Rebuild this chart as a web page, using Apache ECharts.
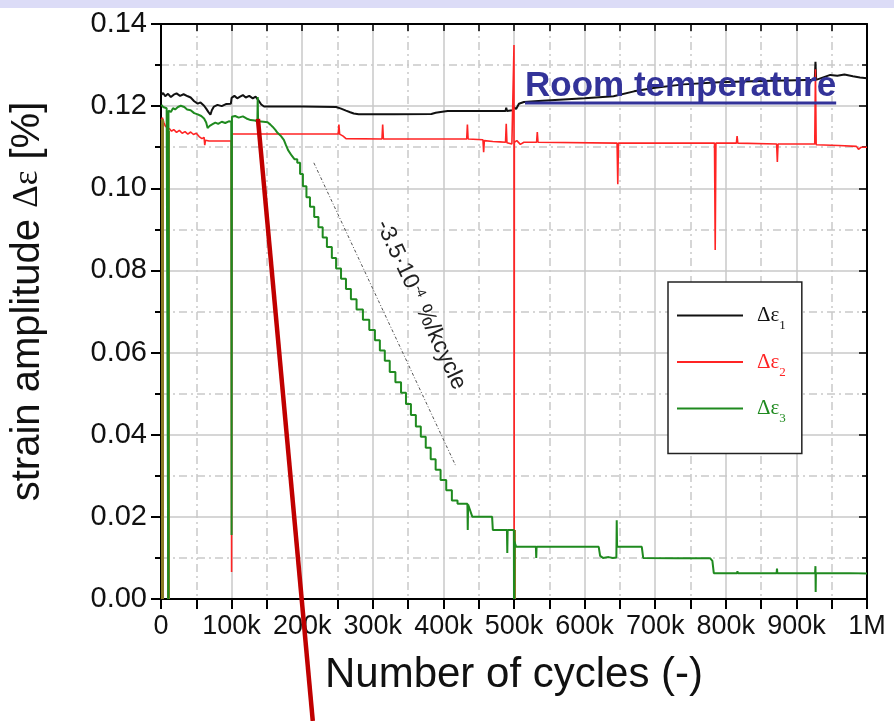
<!DOCTYPE html>
<html>
<head>
<meta charset="utf-8">
<script src="https://cdn.jsdelivr.net/npm/echarts@6/dist/echarts.min.js"></script>
<style>
  html, body { margin: 0; padding: 0; background: #fff; }
  #chart { width: 894px; height: 721px; }
</style>
</head>
<body>
<div id="chart"></div>
<script>
// x values are in thousands of cycles, y values are strain amplitude in %
const xTickLabels = ['0', '100k', '200k', '300k', '400k', '500k', '600k', '700k', '800k', '900k', '1M'];
const seriesNames = ['Δε1', 'Δε2', 'Δε3'];

const eps1 = [[0,0.1227],[3,0.1232],[6,0.1224],[10,0.1230],[14,0.1222],[18,0.1228],[22,0.1231],[27,0.1225],[32,0.1229],[38,0.1224],[42,0.1221],[47,0.1212],[52,0.1206],[56,0.1209],[61,0.1201],[64,0.1194],[67,0.1186],[70,0.1179],[72,0.1190],[75,0.1199],[80,0.1203],[86,0.1200],[92,0.1205],[99,0.1206],[100,0.1220],[104,0.1225],[108,0.1219],[112,0.1223],[116,0.1227],[120,0.1221],[125,0.1225],[130,0.1219],[134,0.1223],[138,0.1214],[142,0.1204],[146,0.1199],[200,0.1199],[248,0.1198],[255,0.1194],[262,0.1189],[268,0.1185],[273,0.1182],[280,0.1180],[330,0.1180],[383,0.1181],[389,0.1184],[396,0.1186],[406,0.1188],[488,0.1188],[489,0.1196],[490,0.1188],[498,0.1190],[500,0.1197],[503,0.1193],[507,0.1206],[514,0.1210],[540,0.1213],[570,0.1216],[600,0.1219],[641,0.1224],[670,0.1236],[700,0.1245],[740,0.1253],[790,0.1258],[850,0.1261],[900,0.1263],[926,0.1264],[927,0.1308],[928,0.1264],[938,0.1270],[948,0.1276],[958,0.1274],[968,0.1277],[980,0.1273],[990,0.1270],[1000,0.1268]];

const eps2 = [[0.5,0.1166],[2,0.1172],[4,0.1160],[6,0.1152],[9,0.1147],[12,0.1145],[15,0.1139],[18,0.1143],[22,0.1136],[26,0.1141],[30,0.1134],[34,0.1138],[38,0.1132],[42,0.1137],[46,0.1131],[50,0.1134],[54,0.1126],[58,0.1121],[61,0.1124],[62,0.1105],[63,0.1117],[68,0.1115],[99.5,0.1115],[100,0.0066],[100.5,0.1132],[251,0.1132],[252,0.1155],[253,0.1132],[258,0.1127],[262,0.1121],[313,0.1120],[314,0.1155],[315,0.1120],[433,0.1120],[434,0.1155],[435,0.1120],[456,0.1118],[457,0.1088],[458,0.1116],[470,0.1114],[480,0.1113],[488,0.1112],[489,0.1157],[490,0.1111],[497,0.1108],[499.5,0.1110],[500,0.1349],[500.2,0],[500.5,0.1112],[504,0.1116],[509,0.1107],[514,0.1112],[532,0.1112],[533,0.1137],[534,0.1112],[646,0.1110],[647,0.1010],[648,0.1110],[784,0.1110],[785,0.0850],[786,0.1110],[815,0.1110],[816,0.1127],[817,0.1110],[872,0.1108],[873,0.1064],[874,0.1108],[926,0.1108],[927,0.1290],[928,0.1106],[960,0.1104],[985,0.1102],[988,0.1095],[992,0.1100],[1000,0.1100]];

const eps3 = [[0.5,0.1203],[3,0.1198],[5,0.1201],[8,0.1195],[10,0.1193],[10.3,0],[10.6,0.1189],[14,0.1186],[17,0.1195],[20,0.1192],[24,0.1198],[28,0.1201],[33,0.1198],[37,0.1192],[42,0.1190],[47,0.1183],[52,0.1180],[57,0.1176],[61,0.1170],[64,0.1160],[66,0.1147],[69,0.1152],[73,0.1156],[77,0.1160],[81,0.1157],[86,0.1162],[91,0.1159],[96,0.1163],[99.5,0.1162],[100,0.0156],[100.5,0.1174],[105,0.1176],[110,0.1172],[116,0.1175],[121,0.1170],[127,0.1166],[133,0.1165],[136.5,0.1163],[137,0.1222],[137.5,0.1163],[145,0.1162],[151,0.1161],[155,0.1155],[158,0.1150],[162,0.1142],[165,0.1135],[170,0.1127],[174,0.1118],[177,0.1105],[180,0.1093],[185,0.1080],[189,0.1071],
  [193,0.1071],[193,0.1062],[197,0.1062],[197,0.1035],[201,0.1035],[201,0.1005],[206,0.1005],[206,0.0978],[211,0.0978],[211,0.0955],[217,0.0955],[217,0.0930],[223,0.0930],[223,0.0905],[229,0.0905],[229,0.0880],[235,0.0880],[235,0.0857],[242,0.0857],[242,0.0830],[248,0.0830],[248,0.0805],[255,0.0805],[255,0.0780],[262,0.0780],[262,0.0755],[269,0.0755],[269,0.0730],[277,0.0730],[277,0.0705],[286,0.0705],[286,0.0680],[295,0.0680],[295,0.0655],[303,0.0655],[303,0.0630],[310,0.0630],[310,0.0605],[317,0.0605],[317,0.0580],[324,0.0580],[324,0.0553],[332,0.0553],[332,0.0528],[340,0.0528],[340,0.0502],[347,0.0502],[347,0.0475],[354,0.0475],[354,0.0448],[361,0.0448],[361,0.0420],[368,0.0420],[368,0.0395],[375,0.0395],[375,0.0368],[382,0.0368],[382,0.0340],[389,0.0340],[389,0.0315],[396,0.0315],[396,0.0290],[404,0.0290],[404,0.0265],[412,0.0265],[412,0.0240],[420,0.0240],[420,0.0232],[434,0.0232],[434.5,0.0168],[435,0.0230],[437,0.0228],[441,0.0200],[469,0.0200],[470,0.0168],[490,0.0168],[490.5,0.0112],[491,0.0168],[499.8,0.0168],[500,0],[500.5,0.0140],[503,0.0127],[531,0.0127],[531.5,0.0100],[532,0.0127],[620,0.0127],[622,0.0105],[626,0.0100],[634,0.0102],[640,0.0100],[645,0.0101],[645.5,0.0192],[646,0.0127],[681,0.0127],[683,0.0100],[730,0.0099],[778,0.0099],[781,0.0093],[783,0.0063],[816,0.0063],[816.5,0.0068],[817,0.0063],[855,0.0063],[855.5,0.0066],[856,0.0063],[872,0.0063],[872.5,0.0074],[873,0.0063],[926.5,0.0063],[927,0.0080],[927.3,0.0017],[927.6,0.0063],[975,0.0063],[1000,0.0062]];

// where the Δε2 and Δε3 records fall to zero together: [kcycles, from, to]
const commonDrops = [[1.5, 0.1168, 0], [10, 0.1140, 0], [500, 0.0168, 0]];

// fitted decline of Δε3 and its label
const slopeLine = [[216.5, 0.1062], [417, 0.0326]];
const slopeLabelAt = [368, 0.0716];
const slopeText = '-3.5·10{sup|-4} %/kcycle';

// pointer drawn across the plot
const pointerLine = [[137.3, 0.1169], [215, -0.0297]];

const titleText = 'Room temperature';

const colors = ['#111111', '#ff2424', '#1f8a1f'];
const FONT = 'Liberation Sans, Arial, sans-serif';
const SERIF = 'Liberation Serif, Times New Roman, serif';

const gridLine = { color: '#c9c9c9', width: 1.5 };
const gridMinor = { color: '#c9c9c9', width: 1.5, type: [8, 4, 2, 4] };

const chart = echarts.init(document.getElementById('chart'), null, { renderer: 'canvas' });

const legendRich = {};
colors.forEach((c, i) => {
  legendRich['m' + (i + 1)] = { color: c, fontSize: 21, fontFamily: SERIF, lineHeight: 26 };
  legendRich['s' + (i + 1)] = { color: c, fontSize: 13, fontFamily: SERIF, lineHeight: 26, verticalAlign: 'bottom', padding: [0, 0, -4, 0] };
});

const option = {
  animation: false,
  backgroundColor: '#ffffff',
  grid: { left: 160, right: 27, top: 24, bottom: 122, containLabel: false },
  legend: {
    data: seriesNames,
    orient: 'vertical',
    left: 668,
    top: 282,
    icon: 'path://M0,0H66V2H0Z',
    itemWidth: 66,
    itemHeight: 26,
    itemGap: 19,
    padding: [23, 16, 28, 9],
    borderColor: '#222',
    borderWidth: 1.5,
    backgroundColor: '#fff',
    selectedMode: false,
    formatter: name => {
      const i = seriesNames.indexOf(name) + 1;
      return '{m' + i + '|Δε}{s' + i + '|' + i + '}';
    },
    textStyle: { width: 36, padding: [0, 0, 0, 9], rich: legendRich }
  },
  xAxis: [
    {
      type: 'value', min: 0, max: 1000, interval: 100, position: 'bottom',
      axisLine: { show: true, onZero: false, lineStyle: { color: '#000', width: 2 } },
      axisTick: { show: true, inside: false, length: 10, lineStyle: { color: '#000', width: 2 } },
      minorTick: { show: true, splitNumber: 2, length: 10, lineStyle: { color: '#000', width: 2 } },
      axisLabel: { fontSize: 27, color: '#111', fontFamily: FONT, margin: 14,
                   formatter: v => xTickLabels[Math.round(v / 100)] },
      splitLine: { show: true, lineStyle: gridLine },
      minorSplitLine: { show: true, lineStyle: gridMinor },
      name: 'Number of cycles (-)', nameLocation: 'middle', nameGap: 55,
      nameTextStyle: { fontSize: 42, color: '#111', fontFamily: FONT }
    },
    {
      type: 'value', min: 0, max: 1000, interval: 100, position: 'top',
      axisLine: { show: true, onZero: false, lineStyle: { color: '#000', width: 2 } },
      axisTick: { show: true, inside: true, length: 7, lineStyle: { color: '#000', width: 1.5 } },
      minorTick: { show: true, splitNumber: 2, length: 7, lineStyle: { color: '#000', width: 1.5 } },
      axisLabel: { show: false }, splitLine: { show: false }
    }
  ],
  yAxis: [
    {
      type: 'value', min: 0, max: 0.14, interval: 0.02, position: 'left',
      axisLine: { show: true, onZero: false, lineStyle: { color: '#000', width: 2 } },
      axisTick: { show: true, inside: false, length: 10, lineStyle: { color: '#000', width: 2 } },
      minorTick: { show: true, splitNumber: 2, length: 6, lineStyle: { color: '#000', width: 2 } },
      axisLabel: { fontSize: 29, color: '#111', fontFamily: FONT, margin: 14, formatter: v => v.toFixed(2) },
      splitLine: { show: true, lineStyle: gridLine },
      minorSplitLine: { show: true, lineStyle: gridMinor },
      name: '{t|strain amplitude }{g|Δε}{t| [%]}', nameLocation: 'middle', nameRotate: 90, nameGap: 113,
      nameTextStyle: { color: '#111', padding: [0, 0, 0, 20], rich: {
        t: { fontSize: 40, fontFamily: FONT, color: '#111' },
        g: { fontSize: 35, fontFamily: SERIF, color: '#111' }
      } }
    },
    {
      type: 'value', min: 0, max: 0.14, interval: 0.02, position: 'right',
      axisLine: { show: true, onZero: false, lineStyle: { color: '#000', width: 2 } },
      axisTick: { show: true, inside: true, length: 8, lineStyle: { color: '#000', width: 1.5 } },
      minorTick: { show: true, splitNumber: 2, length: 5, lineStyle: { color: '#000', width: 1.5 } },
      axisLabel: { show: false }, splitLine: { show: false }
    }
  ],
  series: [
    { type: 'line', name: seriesNames[0], data: eps1, symbol: 'none', z: 3,
      lineStyle: { color: colors[0], width: 2 }, itemStyle: { color: colors[0] } },
    { type: 'line', name: seriesNames[1], data: eps2, symbol: 'none', z: 4,
      lineStyle: { color: colors[1], width: 1.6 }, itemStyle: { color: colors[1] } },
    { type: 'line', name: seriesNames[2], data: eps3, symbol: 'none', z: 5,
      lineStyle: { color: colors[2], width: 2 }, itemStyle: { color: colors[2] },
      markLine: {
        silent: true, symbol: ['none', 'none'], animation: false,
        label: { show: false },
        lineStyle: { color: '#8a7b24', width: 3, type: 'solid' },
        data: commonDrops.map(d => [{ coord: [d[0], d[1]] }, { coord: [d[0], d[2]] }])
      } },
    { type: 'line', name: 'fit', data: slopeLine, symbol: 'none', z: 6, silent: true,
      lineStyle: { color: '#555', width: 1, type: [3, 2, 1, 2] } },
    { type: 'line', name: 'pointer', data: pointerLine, symbol: 'none', z: 10, clip: false, silent: true,
      lineStyle: { color: '#c00000', width: 4.5 } }
  ]
};

chart.setOption(option);

// rotated slope label along the fitted line
const pa = chart.convertToPixel({ gridIndex: 0 }, slopeLine[0]);
const pb = chart.convertToPixel({ gridIndex: 0 }, slopeLine[1]);
const pl = chart.convertToPixel({ gridIndex: 0 }, slopeLabelAt);
const ang = Math.atan2(pb[1] - pa[1], pb[0] - pa[0]);

// underlined heading
const ctx = document.createElement('canvas').getContext('2d');
ctx.font = 'bold 35px Liberation Sans';
const titleW = ctx.measureText(titleText).width;

chart.setOption({
  graphic: [
    { type: 'rect', left: 0, top: 0, z: 0, shape: { width: 894, height: 8 }, style: { fill: '#dcdcf7' } },
    { type: 'text', x: pl[0], y: pl[1], rotation: -ang, z: 20,
      style: { text: slopeText, fill: '#222', font: '23px Liberation Sans', align: 'center', verticalAlign: 'middle',
               rich: { sup: { fontSize: 13, fill: '#222', verticalAlign: 'top', padding: [0, 2, 10, 1] } } } },
    { type: 'text', x: 525, y: 86, z: 20,
      style: { text: titleText, fill: '#333399', font: 'bold 35px Liberation Sans', align: 'left', verticalAlign: 'middle' } },
    { type: 'rect', x: 525, y: 101.5, z: 20, shape: { width: titleW, height: 3 }, style: { fill: '#333399' } }
  ]
});
</script>
</body>
</html>
